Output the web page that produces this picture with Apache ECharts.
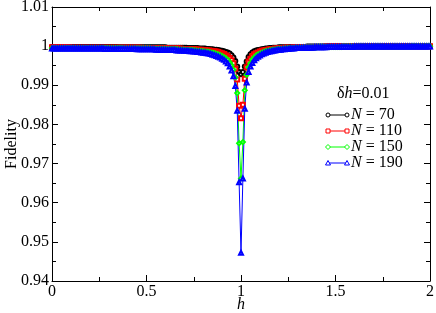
<!DOCTYPE html>
<html>
<head>
<meta charset="utf-8">
<script src="https://cdn.jsdelivr.net/npm/echarts@6/dist/echarts.min.js"></script>
<style>html,body{margin:0;padding:0;background:#fff}#c{width:436px;height:313px}</style>
</head>
<body>
<div id="c"></div>
<script>
const H = [
0,0.01,0.02,0.03,0.04,0.05,0.06,0.07,0.08,0.09,
0.1,0.11,0.12,0.13,0.14,0.15,0.16,0.17,0.18,0.19,
0.2,0.21,0.22,0.23,0.24,0.25,0.26,0.27,0.28,0.29,
0.3,0.31,0.32,0.33,0.34,0.35,0.36,0.37,0.38,0.39,
0.4,0.41,0.42,0.43,0.44,0.45,0.46,0.47,0.48,0.49,
0.5,0.51,0.52,0.53,0.54,0.55,0.56,0.57,0.58,0.59,
0.6,0.61,0.62,0.63,0.64,0.65,0.66,0.67,0.68,0.69,
0.7,0.71,0.72,0.73,0.74,0.75,0.76,0.77,0.78,0.79,
0.8,0.81,0.82,0.83,0.84,0.85,0.86,0.87,0.88,0.89,
0.9,0.91,0.92,0.93,0.94,0.95,0.96,0.97,0.98,0.99,
1,1.01,1.02,1.03,1.04,1.05,1.06,1.07,1.08,1.09,
1.1,1.11,1.12,1.13,1.14,1.15,1.16,1.17,1.18,1.19,
1.2,1.21,1.22,1.23,1.24,1.25,1.26,1.27,1.28,1.29,
1.3,1.31,1.32,1.33,1.34,1.35,1.36,1.37,1.38,1.39,
1.4,1.41,1.42,1.43,1.44,1.45,1.46,1.47,1.48,1.49,
1.5,1.51,1.52,1.53,1.54,1.55,1.56,1.57,1.58,1.59,
1.6,1.61,1.62,1.63,1.64,1.65,1.66,1.67,1.68,1.69,
1.7,1.71,1.72,1.73,1.74,1.75,1.76,1.77,1.78,1.79,
1.8,1.81,1.82,1.83,1.84,1.85,1.86,1.87,1.88,1.89,
1.9,1.91,1.92,1.93,1.94,1.95,1.96,1.97,1.98,1.99,
2];

const F70 = [
0.9998,0.9998,0.9998,0.9998,0.9998,0.9998,0.9998,0.9998,0.9998,0.9998,
0.9998,0.9998,0.9998,0.9998,0.9998,0.9998,0.9998,0.9998,0.9998,0.9998,
0.9998,0.9998,0.9998,0.9998,0.9998,0.9998,0.9998,0.9998,0.9998,0.9998,
0.9998,0.9998,0.9998,0.9998,0.9998,0.9997,0.9997,0.9997,0.9997,0.9997,
0.9997,0.9997,0.9997,0.9997,0.9997,0.9997,0.9997,0.9997,0.9997,0.9997,
0.9997,0.9997,0.9997,0.9997,0.9997,0.9997,0.9997,0.9997,0.9997,0.9997,
0.9997,0.9996,0.9996,0.9996,0.9996,0.9996,0.9996,0.9996,0.9996,0.9996,
0.9996,0.9996,0.9995,0.9995,0.9995,0.9995,0.9995,0.9995,0.9994,0.9994,
0.9994,0.9994,0.9993,0.9993,0.9992,0.9992,0.9991,0.9991,0.9990,0.9989,
0.9988,0.9987,0.9985,0.9984,0.9981,0.9977,0.9971,0.9962,0.9948,0.9934,
0.9928,0.9934,0.9948,0.9961,0.9972,0.9979,0.9984,0.9987,0.9989,0.9990,
0.9991,0.9992,0.9993,0.9994,0.9994,0.9995,0.9995,0.9996,0.9996,0.9996,
0.9997,0.9997,0.9997,0.9997,0.9997,0.9997,0.9998,0.9998,0.9998,0.9998,
0.9998,0.9998,0.9998,0.9998,0.9998,0.9999,0.9999,0.9999,0.9999,0.9999,
0.9999,0.9999,0.9999,0.9999,0.9999,0.9999,0.9999,0.9999,0.9999,0.9999,
0.9999,0.9999,0.9999,0.9999,0.9999,0.9999,0.9999,0.9999,0.9999,0.9999,
0.9999,0.9999,0.9999,0.9999,1,1,1,1,1,1,
1,1,1,1,1,1,1,1,1,1,
1,1,1,1,1,1,1,1,1,1,
1,1,1,1,1,1,1,1,1,1,
1];

const F110 = [
0.9997,0.9997,0.9997,0.9997,0.9997,0.9997,0.9997,0.9997,0.9997,0.9997,
0.9996,0.9996,0.9996,0.9996,0.9996,0.9996,0.9996,0.9996,0.9996,0.9996,
0.9996,0.9996,0.9996,0.9996,0.9996,0.9996,0.9996,0.9996,0.9996,0.9996,
0.9996,0.9996,0.9996,0.9996,0.9996,0.9996,0.9996,0.9996,0.9996,0.9996,
0.9996,0.9996,0.9996,0.9996,0.9996,0.9996,0.9996,0.9996,0.9995,0.9995,
0.9995,0.9995,0.9995,0.9995,0.9995,0.9995,0.9995,0.9995,0.9995,0.9995,
0.9995,0.9994,0.9994,0.9994,0.9994,0.9994,0.9994,0.9994,0.9994,0.9993,
0.9993,0.9993,0.9993,0.9993,0.9992,0.9992,0.9992,0.9991,0.9991,0.9991,
0.9990,0.9990,0.9989,0.9989,0.9988,0.9987,0.9987,0.9986,0.9985,0.9983,
0.9982,0.9980,0.9977,0.9974,0.9970,0.9964,0.9956,0.9942,0.9915,0.9848,
0.9816,0.9850,0.9917,0.9946,0.9961,0.9968,0.9975,0.9979,0.9982,0.9984,
0.9986,0.9988,0.9989,0.9990,0.9991,0.9992,0.9993,0.9993,0.9994,0.9994,
0.9995,0.9995,0.9995,0.9996,0.9996,0.9996,0.9996,0.9996,0.9997,0.9997,
0.9997,0.9997,0.9997,0.9997,0.9998,0.9998,0.9998,0.9998,0.9998,0.9998,
0.9998,0.9998,0.9998,0.9998,0.9998,0.9999,0.9999,0.9999,0.9999,0.9999,
0.9999,0.9999,0.9999,0.9999,0.9999,0.9999,0.9999,0.9999,0.9999,0.9999,
0.9999,0.9999,0.9999,0.9999,0.9999,0.9999,0.9999,0.9999,0.9999,0.9999,
0.9999,0.9999,0.9999,0.9999,0.9999,0.9999,0.9999,0.9999,0.9999,1,
1,1,1,1,1,1,1,1,1,1,
1,1,1,1,1,1,1,1,1,1,
1];

const F150 = [
0.9995,0.9995,0.9995,0.9995,0.9995,0.9995,0.9995,0.9995,0.9995,0.9995,
0.9995,0.9995,0.9995,0.9995,0.9995,0.9995,0.9995,0.9995,0.9995,0.9995,
0.9995,0.9995,0.9995,0.9995,0.9995,0.9995,0.9995,0.9995,0.9995,0.9995,
0.9995,0.9995,0.9995,0.9995,0.9995,0.9995,0.9995,0.9995,0.9994,0.9994,
0.9994,0.9994,0.9994,0.9994,0.9994,0.9994,0.9994,0.9994,0.9994,0.9994,
0.9994,0.9994,0.9994,0.9993,0.9993,0.9993,0.9993,0.9993,0.9993,0.9993,
0.9993,0.9992,0.9992,0.9992,0.9992,0.9992,0.9992,0.9991,0.9991,0.9991,
0.9991,0.9990,0.9990,0.9990,0.9990,0.9989,0.9989,0.9988,0.9988,0.9987,
0.9987,0.9986,0.9986,0.9985,0.9984,0.9983,0.9982,0.9980,0.9979,0.9977,
0.9975,0.9972,0.9969,0.9965,0.9959,0.9951,0.9940,0.9920,0.9880,0.9752,
0.9662,0.9755,0.9887,0.9927,0.9946,0.9956,0.9966,0.9971,0.9976,0.9979,
0.9981,0.9983,0.9985,0.9987,0.9988,0.9989,0.9990,0.9991,0.9991,0.9992,
0.9993,0.9993,0.9993,0.9994,0.9994,0.9995,0.9995,0.9995,0.9995,0.9996,
0.9996,0.9996,0.9996,0.9997,0.9997,0.9997,0.9997,0.9997,0.9997,0.9997,
0.9997,0.9998,0.9998,0.9998,0.9998,0.9998,0.9998,0.9998,0.9998,0.9998,
0.9998,0.9998,0.9998,0.9998,0.9999,0.9999,0.9999,0.9999,0.9999,0.9999,
0.9999,0.9999,0.9999,0.9999,0.9999,0.9999,0.9999,0.9999,0.9999,0.9999,
0.9999,0.9999,0.9999,0.9999,0.9999,0.9999,0.9999,0.9999,0.9999,0.9999,
0.9999,0.9999,0.9999,0.9999,0.9999,0.9999,0.9999,0.9999,0.9999,0.9999,
0.9999,1,1,1,1,1,1,1,1,1,
1];

const F190 = [
0.9994,0.9994,0.9994,0.9994,0.9994,0.9994,0.9994,0.9994,0.9994,0.9994,
0.9994,0.9994,0.9994,0.9994,0.9994,0.9994,0.9994,0.9994,0.9994,0.9994,
0.9994,0.9994,0.9994,0.9994,0.9994,0.9994,0.9994,0.9994,0.9993,0.9993,
0.9993,0.9993,0.9993,0.9993,0.9993,0.9993,0.9993,0.9993,0.9993,0.9993,
0.9993,0.9993,0.9993,0.9993,0.9993,0.9992,0.9992,0.9992,0.9992,0.9992,
0.9992,0.9992,0.9992,0.9992,0.9992,0.9991,0.9991,0.9991,0.9991,0.9991,
0.9991,0.9990,0.9990,0.9990,0.9990,0.9990,0.9989,0.9989,0.9989,0.9989,
0.9988,0.9988,0.9988,0.9987,0.9987,0.9986,0.9986,0.9985,0.9985,0.9984,
0.9983,0.9983,0.9982,0.9981,0.9980,0.9978,0.9977,0.9975,0.9973,0.9971,
0.9968,0.9965,0.9961,0.9956,0.9948,0.9938,0.9923,0.9898,0.9835,0.9652,
0.9472,0.9662,0.9840,0.9907,0.9934,0.9948,0.9957,0.9964,0.9969,0.9973,
0.9976,0.9979,0.9981,0.9983,0.9985,0.9986,0.9987,0.9988,0.9989,0.9990,
0.9991,0.9991,0.9992,0.9992,0.9993,0.9993,0.9994,0.9994,0.9994,0.9995,
0.9995,0.9995,0.9995,0.9996,0.9996,0.9996,0.9996,0.9996,0.9996,0.9997,
0.9997,0.9997,0.9997,0.9997,0.9997,0.9997,0.9998,0.9998,0.9998,0.9998,
0.9998,0.9998,0.9998,0.9998,0.9998,0.9998,0.9998,0.9998,0.9998,0.9998,
0.9999,0.9999,0.9999,0.9999,0.9999,0.9999,0.9999,0.9999,0.9999,0.9999,
0.9999,0.9999,0.9999,0.9999,0.9999,0.9999,0.9999,0.9999,0.9999,0.9999,
0.9999,0.9999,0.9999,0.9999,0.9999,0.9999,0.9999,0.9999,0.9999,0.9999,
0.9999,0.9999,0.9999,0.9999,0.9999,0.9999,0.9999,0.9999,0.9999,0.9999,
0.9999];

const seriesNames = ['N = 70', 'N = 110', 'N = 150', 'N = 190'];
const seriesValues = [F70, F110, F150, F190];
const seriesColors = ['#000000', '#ff0000', '#00ff00', '#0000ff'];
const seriesSymbols = ['emptyCircle', 'emptyRect', 'emptyDiamond', 'emptyTriangle'];
const legendTitle = 'δh=0.01';

const FONT = 'Liberation Serif';
const chart = echarts.init(document.getElementById('c'), null, {renderer: 'canvas'});

const axisCommon = {
  axisLine: {show: true, onZero: false, lineStyle: {color: '#000', width: 1}},
  axisTick: {show: true, inside: true, length: 6, lineStyle: {color: '#000', width: 1}},
  minorTick: {show: true, splitNumber: 2, length: 4, lineStyle: {color: '#000', width: 1}},
  splitLine: {show: false},
  minorSplitLine: {show: false},
  nameMoveOverlap: false
};

const series = seriesValues.map((vals, i) => ({
  name: seriesNames[i],
  type: 'line',
  xAxisIndex: 0, yAxisIndex: 0,
  data: H.map((h, j) => [h, vals[j]]),
  symbol: seriesSymbols[i],
  symbolSize: 4,
  showAllSymbol: true,
  lineStyle: {color: seriesColors[i], width: 1},
  itemStyle: {color: seriesColors[i], borderColor: seriesColors[i], borderWidth: 1},
  emphasis: {disabled: true},
  animation: false
}));

// legend drawn as graphic
const legX0 = 328, legX1 = 347, legY0 = 115, legDy = 16;
const graphics = [];
graphics.push({
  type: 'text', x: 337, y: 94,
  style: {text: 'δ{i|h}=0.01', rich: {i: {fontStyle: 'italic', fontFamily: FONT, fontSize: 16}}, fontFamily: FONT, fontSize: 16, fill: '#000', verticalAlign: 'middle'}
});
function markerShape(i, cx, cy) {
  const st = {fill: '#fff', stroke: seriesColors[i], lineWidth: 1};
  if (i === 0) return {type: 'circle', shape: {cx, cy, r: 2}, style: st, z: 10};
  if (i === 1) return {type: 'rect', shape: {x: cx - 2, y: cy - 2, width: 4, height: 4}, style: st, z: 10};
  if (i === 2) return {type: 'polygon', shape: {points: [[cx, cy - 2.5], [cx + 2.5, cy], [cx, cy + 2.5], [cx - 2.5, cy]]}, style: st, z: 10};
  return {type: 'polygon', shape: {points: [[cx, cy - 2.5], [cx + 2.5, cy + 2], [cx - 2.5, cy + 2]]}, style: st, z: 10};
}
seriesNames.forEach((n, i) => {
  const y = legY0 + i * legDy;
  graphics.push({type: 'line', shape: {x1: legX0, y1: y, x2: legX1, y2: y}, style: {stroke: seriesColors[i], lineWidth: 1}, z: 9});
  graphics.push(markerShape(i, legX0, y));
  graphics.push(markerShape(i, legX1, y));
  graphics.push({
    type: 'text', x: 351, y: y,
    style: {text: '{i|N}' + n.slice(1), rich: {i: {fontStyle: 'italic', fontFamily: FONT, fontSize: 16}}, fontFamily: FONT, fontSize: 16, fill: '#000', verticalAlign: 'middle'}
  });
});

chart.setOption({
  animation: false,
  backgroundColor: '#fff',
  grid: {left: 52, right: 6, top: 7, bottom: 32, containLabel: false, outerBoundsMode: 'none'},
  xAxis: [
    Object.assign({}, axisCommon, {
      type: 'value', position: 'bottom', min: 0, max: 2, interval: 0.5,
      axisLabel: {color: '#000', fontFamily: FONT, fontSize: 16, margin: 3,
        formatter: v => String(parseFloat(v.toFixed(2)))},
      name: 'h', nameLocation: 'middle', nameGap: 24,
      nameTextStyle: {color: '#000', fontFamily: FONT, fontSize: 16, fontStyle: 'italic', verticalAlign: 'middle'}
    }),
    Object.assign({}, axisCommon, {
      type: 'value', position: 'top', min: 0, max: 2, interval: 0.5,
      axisLabel: {show: false}
    })
  ],
  yAxis: [
    Object.assign({}, axisCommon, {
      type: 'value', position: 'left', min: 0.94, max: 1.01, interval: 0.01,
      axisLabel: {color: '#000', fontFamily: FONT, fontSize: 16, margin: 3,
        formatter: v => String(parseFloat(v.toFixed(2)))},
      name: 'Fidelity', nameLocation: 'middle', nameGap: 40, nameRotate: 90,
      nameTextStyle: {color: '#000', fontFamily: FONT, fontSize: 16, verticalAlign: 'middle'}
    }),
    Object.assign({}, axisCommon, {
      type: 'value', position: 'right', min: 0.94, max: 1.01, interval: 0.01,
      axisLabel: {show: false}
    })
  ],
  series: series,
  graphic: graphics
});
</script>
</body>
</html>
